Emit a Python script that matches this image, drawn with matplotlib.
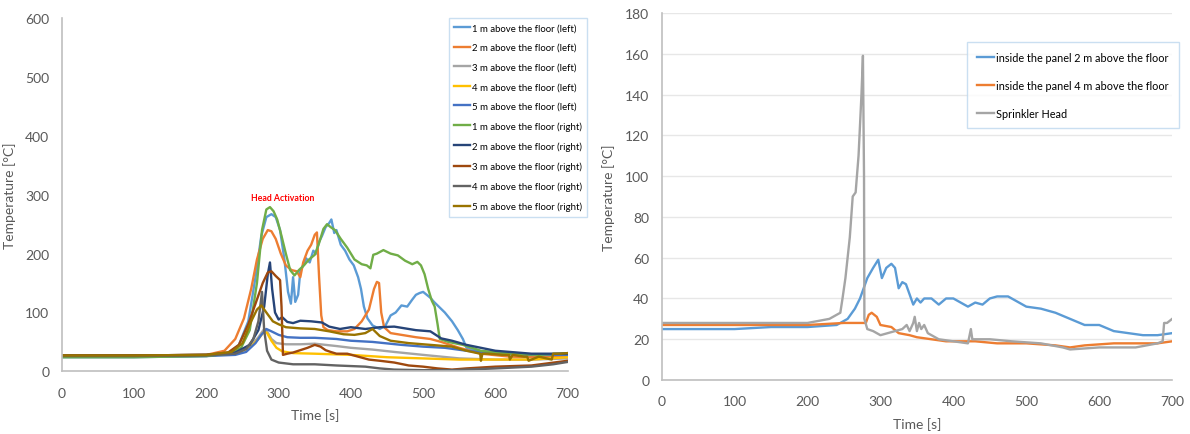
import matplotlib
matplotlib.use("Agg")
import matplotlib.pyplot as plt

plt.rcParams['font.family'] = ['Lato', 'DejaVu Sans']

# ---------------- Left chart data (time [s], temperature [°C]) ----------------
t_1m_left = [0, 100, 200, 230, 245, 258, 268, 276, 283, 290, 296, 302, 308, 313, 317, 320, 323, 327, 330, 334, 338, 343, 348, 352, 356, 360, 365, 370, 373, 377, 380, 386, 392, 398, 404, 410, 414, 418, 423, 430, 440, 448, 455, 462, 470, 478, 485, 490, 495, 500, 505, 510, 515, 520, 530, 540, 548, 555, 560, 580, 620, 660, 700]
T_1m_left = [24, 24, 26, 30, 45, 85, 160, 230, 262, 267, 262, 240, 190, 135, 115, 160, 118, 130, 170, 180, 192, 185, 205, 200, 220, 230, 245, 252, 258, 235, 240, 215, 205, 190, 180, 160, 140, 110, 90, 78, 72, 78, 95, 100, 112, 110, 122, 130, 133, 135, 130, 125, 118, 112, 100, 85, 70, 55, 40, 33, 30, 28, 28]

t_2m_left = [0, 100, 200, 225, 240, 252, 262, 270, 278, 285, 290, 296, 303, 310, 318, 325, 330, 334, 340, 345, 350, 353, 356, 359, 362, 368, 380, 395, 405, 415, 425, 432, 436, 439, 442, 446, 455, 470, 490, 510, 525, 550, 580, 620, 660, 700]
T_2m_left = [27, 27, 28, 35, 55, 90, 140, 190, 225, 240, 238, 225, 200, 180, 172, 170, 160, 185, 205, 215, 232, 236, 160, 95, 75, 70, 68, 68, 72, 85, 105, 140, 152, 150, 100, 75, 65, 62, 58, 55, 50, 40, 30, 25, 24, 26]

t_3m_left = [0, 100, 200, 240, 260, 272, 280, 284, 290, 297, 310, 330, 350, 380, 400, 430, 460, 500, 550, 600, 650, 700]
T_3m_left = [27, 27, 28, 32, 42, 58, 72, 68, 55, 48, 46, 46, 47, 43, 40, 37, 33, 28, 22, 20, 20, 22]

t_4m_left = [0, 100, 200, 240, 260, 272, 280, 284, 290, 297, 305, 320, 350, 400, 450, 500, 550, 600, 650, 700]
T_4m_left = [26, 26, 27, 30, 40, 55, 68, 65, 52, 40, 34, 31, 30, 28, 24, 22, 20, 20, 20, 24]

t_5m_left = [0, 100, 200, 240, 255, 268, 276, 283, 290, 300, 312, 330, 350, 380, 400, 430, 470, 500, 530, 560, 600, 650, 700]
T_5m_left = [25, 25, 26, 28, 33, 48, 62, 72, 68, 62, 58, 57, 57, 55, 52, 50, 45, 42, 40, 35, 30, 28, 28]

t_1m_right = [0, 100, 200, 230, 248, 260, 270, 277, 283, 288, 293, 298, 304, 310, 316, 322, 328, 335, 342, 350, 356, 362, 367, 372, 378, 386, 395, 405, 415, 422, 427, 431, 436, 445, 455, 465, 475, 485, 492, 497, 502, 507, 512, 516, 520, 523, 535, 555, 580, 620, 660, 700]
T_1m_right = [24, 24, 26, 30, 40, 70, 150, 240, 275, 279, 272, 258, 230, 200, 172, 163, 172, 180, 190, 198, 218, 242, 250, 245, 240, 225, 210, 190, 182, 180, 175, 198, 200, 206, 200, 197, 188, 182, 186, 180, 165, 140, 120, 110, 80, 55, 50, 45, 35, 30, 28, 31]

t_2m_right = [0, 100, 200, 240, 260, 272, 280, 285, 288, 291, 295, 300, 305, 312, 320, 330, 345, 360, 370, 385, 400, 420, 440, 460, 475, 490, 510, 525, 540, 560, 600, 650, 700]
T_2m_right = [27, 27, 28, 32, 45, 70, 110, 165, 185, 140, 100, 88, 92, 84, 82, 86, 85, 83, 76, 72, 75, 72, 75, 76, 73, 70, 68, 56, 52, 45, 35, 30, 30]

t_3m_right = [0, 100, 200, 230, 245, 258, 268, 278, 285, 290, 296, 302, 304, 306, 312, 320, 330, 340, 350, 358, 365, 372, 380, 395, 410, 425, 440, 460, 480, 500, 520, 540, 560, 600, 650, 700]
T_3m_right = [27, 27, 28, 32, 45, 80, 115, 150, 168, 170, 162, 155, 110, 28, 30, 32, 36, 40, 45, 42, 36, 33, 30, 30, 25, 20, 18, 15, 10, 8, 5, 3, 5, 8, 10, 18]

t_4m_right = [0, 100, 200, 240, 255, 265, 272, 277, 280, 284, 290, 300, 320, 350, 380, 420, 440, 460, 500, 540, 600, 650, 680, 700]
T_4m_right = [26, 26, 27, 30, 38, 55, 85, 135, 70, 35, 20, 15, 12, 12, 10, 8, 5, 3, 2, 2, 5, 8, 12, 16]

t_5m_right = [0, 100, 200, 235, 250, 262, 270, 276, 283, 292, 300, 310, 330, 350, 370, 390, 405, 420, 430, 440, 455, 480, 510, 540, 560, 579, 580, 582, 590, 610, 619, 620, 624, 640, 644, 646, 660, 678, 680, 690, 700]
T_5m_right = [27, 27, 28, 33, 48, 85, 105, 112, 100, 85, 80, 75, 73, 72, 68, 63, 62, 65, 72, 60, 52, 48, 45, 42, 35, 30, 18, 30, 30, 28, 28, 20, 28, 25, 25, 18, 25, 20, 30, 30, 31]

# ---------------- Right chart data ----------------
t_panel2 = [0, 50, 100, 150, 200, 240, 255, 265, 272, 282, 290, 297, 302, 308, 315, 320, 325, 330, 335, 340, 345, 350, 355, 360, 370, 380, 390, 400, 410, 420, 430, 440, 450, 460, 475, 490, 500, 520, 540, 560, 580, 600, 620, 640, 660, 680, 700]
T_panel2 = [25, 25, 25, 26, 26, 27, 30, 35, 40, 50, 55, 59, 50, 55, 57, 55, 45, 48, 47, 42, 37, 40, 38, 40, 40, 37, 40, 40, 38, 36, 38, 37, 40, 41, 41, 38, 36, 35, 33, 30, 27, 27, 24, 23, 22, 22, 23]

t_panel4 = [0, 100, 200, 250, 280, 284, 288, 295, 300, 315, 325, 340, 350, 370, 390, 400, 430, 460, 500, 540, 560, 580, 620, 660, 680, 700]
T_panel4 = [27, 27, 27, 28, 28, 32, 33, 31, 27, 26, 23, 22, 21, 20, 19, 19, 19, 18, 18, 17, 16, 17, 18, 18, 18, 19]

t_sprinkler = [0, 100, 200, 230, 245, 248, 252, 258, 262, 266, 270, 274, 276, 277.5, 278, 282, 290, 300, 310, 320, 330, 336, 340, 345, 347, 350, 353, 356, 360, 365, 380, 400, 420, 424, 426, 430, 450, 480, 520, 550, 560, 600, 650, 680, 687, 689, 693, 700]
T_sprinkler = [28, 28, 28, 30, 33, 40, 50, 70, 90, 92, 110, 140, 159, 100, 30, 25, 24, 22, 23, 24, 25, 27, 24, 28, 31, 24, 28, 25, 27, 23, 20, 19, 18, 25, 20, 20, 20, 19, 18, 16, 15, 16, 16, 18, 19, 28, 28, 30]

left_series = [
    ("1 m above the floor (left)", t_1m_left, T_1m_left, "#5B9BD5"),
    ("2 m above the floor (left)", t_2m_left, T_2m_left, "#ED7D31"),
    ("3 m above the floor (left)", t_3m_left, T_3m_left, "#A5A5A5"),
    ("4 m above the floor (left)", t_4m_left, T_4m_left, "#FFC000"),
    ("5 m above the floor (left)", t_5m_left, T_5m_left, "#4472C4"),
    ("1 m above the floor (right)", t_1m_right, T_1m_right, "#70AD47"),
    ("2 m above the floor (right)", t_2m_right, T_2m_right, "#264478"),
    ("3 m above the floor (right)", t_3m_right, T_3m_right, "#9E480E"),
    ("4 m above the floor (right)", t_4m_right, T_4m_right, "#636363"),
    ("5 m above the floor (right)", t_5m_right, T_5m_right, "#997300"),
]
right_series = [
    ("inside the panel 2 m above the floor", t_panel2, T_panel2, "#5B9BD5"),
    ("inside the panel 4 m above the floor", t_panel4, T_panel4, "#ED7D31"),
    ("Sprinkler Head", t_sprinkler, T_sprinkler, "#A5A5A5"),
]

x_ticks = [0, 100, 200, 300, 400, 500, 600, 700]
left_y_ticks = [0, 100, 200, 300, 400, 500, 600]
right_y_ticks = [0, 20, 40, 60, 80, 100, 120, 140, 160, 180]

fig = plt.figure(figsize=(11.9, 4.35), dpi=100)
ax1 = fig.add_axes([0.052, 0.144, 0.425, 0.812])
ax2 = fig.add_axes([0.556, 0.124, 0.429, 0.844])

spine_col = "#BFBFBF"
tick_col = "#595959"

for ax in (ax1, ax2):
    for s in ("top", "right"):
        ax.spines[s].set_visible(False)
    for s in ("left", "bottom"):
        ax.spines[s].set_color(spine_col)
        ax.spines[s].set_linewidth(1.2)
    ax.tick_params(axis="x", length=0, labelsize=10, colors=tick_col, pad=11)
    ax.tick_params(axis="y", length=0, labelsize=10, colors=tick_col, pad=9)
    ax.set_xlim(0, 700)
    ax.set_xticks(x_ticks)
    ax.set_xlabel("Time [s]", fontsize=10, color=tick_col, labelpad=7)
    ax.set_ylabel("Temperature [°C]", fontsize=10, color=tick_col, labelpad=7)

for lab, t, T, c in left_series:
    ax1.plot(t, T, color=c, lw=1.7, label=lab)
ax1.set_ylim(0, 600)
ax1.set_yticks(left_y_ticks)
ax1.text(306, 296, "Head Activation", color="red", fontsize=6.3, fontweight="bold",
         ha="center", va="center")
leg1 = ax1.legend(loc="upper left", bbox_to_anchor=(0.373, 0.968), bbox_transform=fig.transFigure,
                  fontsize=6.9, frameon=True, fancybox=False, handlelength=1.6, handletextpad=0.2,
                  labelspacing=1.1, borderpad=0.6)
leg1.get_frame().set_edgecolor("#BDD7EE")
leg1.get_frame().set_linewidth(1.0)

ax2.grid(axis="y", color="#E7E7E7", lw=1.0)
ax2.set_axisbelow(True)
for lab, t, T, c in right_series:
    ax2.plot(t, T, color=c, lw=1.7, label=lab)
ax2.set_ylim(0, 180)
ax2.set_yticks(right_y_ticks)
leg2 = ax2.legend(loc="upper left", bbox_to_anchor=(0.808, 0.913), bbox_transform=fig.transFigure,
                  fontsize=7.8, frameon=True, fancybox=False, handlelength=1.6, handletextpad=0.2,
                  labelspacing=1.55, borderpad=0.9)
leg2.get_frame().set_edgecolor("#BDD7EE")
leg2.get_frame().set_linewidth(1.0)

fig.savefig("out.png", dpi=100)
